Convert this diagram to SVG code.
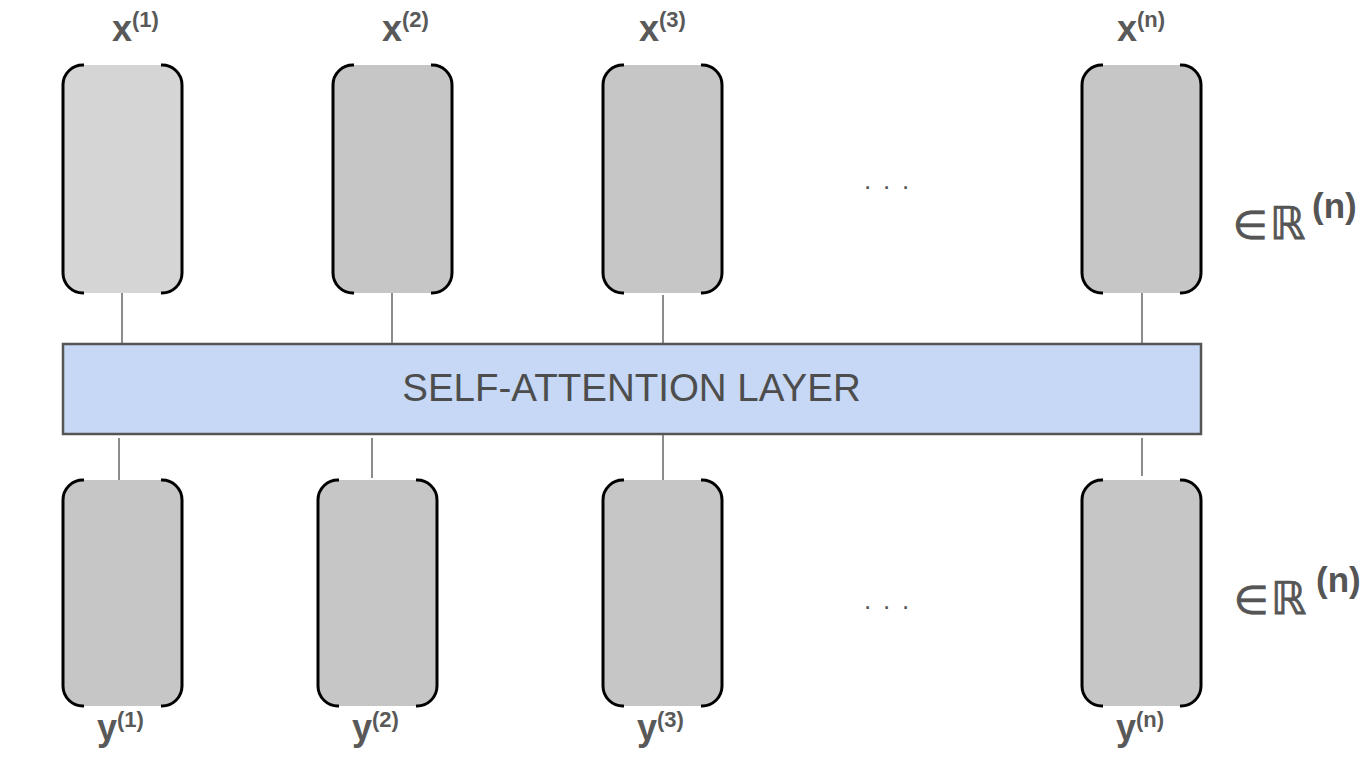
<svg xmlns="http://www.w3.org/2000/svg" width="1372" height="764" viewBox="0 0 1372 764">
<style>
.fill{fill:#c6c6c6;stroke:none}
.fill1{fill:#d5d5d5;stroke:none}
.br{fill:none;stroke:#000;stroke-width:3;stroke-linecap:butt}
.lbl{font-family:"Liberation Sans",Arial,sans-serif;font-weight:bold;font-size:36px;fill:#595959}
.sup{font-size:22px}
.con{stroke:#666;stroke-width:1.5}
.dots{font-family:"Liberation Sans",Arial,sans-serif;font-size:26px;fill:#555}
.math{font-family:"DejaVu Sans",sans-serif;fill:#555;stroke:#555;stroke-width:0.8}
.nsup{font-family:"Liberation Sans",Arial,sans-serif;font-weight:bold;font-size:35px;fill:#555}
</style>
<defs>
<g id="vecTop">
<rect class="fill" x="0" y="0" width="119" height="228" rx="20"/>
<path class="br" d="M21 0A20 20 0 0 0 0 20V208A20 20 0 0 0 21 228"/>
<path class="br" d="M98 0A20 20 0 0 1 119 20V208A20 20 0 0 1 98 228"/>
</g>
<g id="vecBot">
<rect class="fill" x="0" y="0" width="119" height="226" rx="20"/>
<path class="br" d="M21 0A20 20 0 0 0 0 20V206A20 20 0 0 0 21 226"/>
<path class="br" d="M98 0A20 20 0 0 1 119 20V206A20 20 0 0 1 98 226"/>
</g>
</defs>
<rect width="1372" height="764" fill="#fff"/>

<g id="connectors">
<line class="con" x1="122" y1="293" x2="122" y2="344"/>
<line class="con" x1="392" y1="293" x2="392" y2="344"/>
<line class="con" x1="663" y1="295" x2="663" y2="350"/>
<line class="con" x1="1142" y1="293" x2="1142" y2="344"/>
<line class="con" x1="119" y1="438" x2="119" y2="480"/>
<line class="con" x1="372" y1="438" x2="372" y2="478"/>
<line class="con" x1="663" y1="428" x2="663" y2="482"/>
<line class="con" x1="1142" y1="438" x2="1142" y2="476"/>
</g>

<g id="sa-layer">
<rect x="63" y="344" width="1138" height="90" fill="#c6d8f5" stroke="#555" stroke-width="2.5"/>
<text x="631.5" y="401" text-anchor="middle" font-family="'Liberation Sans',Arial,sans-serif" font-size="38.5" fill="#4d4d4d">SELF-ATTENTION LAYER</text>
</g>

<g id="x1">
<rect class="fill1" x="63" y="65" width="119" height="228" rx="20"/>
<path class="br" d="M84 65A20 20 0 0 0 63 85V273A20 20 0 0 0 84 293"/>
<path class="br" d="M161 65A20 20 0 0 1 182 85V273A20 20 0 0 1 161 293"/>
<text class="lbl" x="112" y="41">x<tspan class="sup" y="27">(1)</tspan></text>
</g>
<g id="x2">
<use href="#vecTop" x="333" y="65"/>
<text class="lbl" x="382" y="41">x<tspan class="sup" y="27">(2)</tspan></text>
</g>
<g id="x3">
<use href="#vecTop" x="603" y="65"/>
<text class="lbl" x="639" y="41">x<tspan class="sup" y="27">(3)</tspan></text>
</g>
<g id="xn">
<use href="#vecTop" x="1082" y="65"/>
<text class="lbl" x="1117" y="41">x<tspan class="sup" y="27">(n)</tspan></text>
</g>

<g id="y1">
<use href="#vecBot" x="63" y="480"/>
<text class="lbl" x="97" y="740">y<tspan class="sup" y="727">(1)</tspan></text>
</g>
<g id="y2">
<use href="#vecBot" x="318" y="480"/>
<text class="lbl" x="352" y="740">y<tspan class="sup" y="727">(2)</tspan></text>
</g>
<g id="y3">
<use href="#vecBot" x="603" y="480"/>
<text class="lbl" x="637" y="740">y<tspan class="sup" y="727">(3)</tspan></text>
</g>
<g id="yn">
<use href="#vecBot" x="1082" y="480"/>
<text class="lbl" x="1116" y="740">y<tspan class="sup" y="727">(n)</tspan></text>
</g>

<g id="ellipsis-top">
<text class="dots" x="864 883 902" y="189">...</text>
</g>
<g id="ellipsis-bottom">
<text class="dots" x="864 883 902" y="609">...</text>
</g>

<g id="space-top">
<text class="math" x="1233" y="239" font-size="40">∈</text>
<text class="math" x="1270" y="239" font-size="45">ℝ</text>
<text class="nsup" x="1312" y="218">(n)</text>
</g>
<g id="space-bottom">
<text class="math" x="1234" y="614" font-size="40">∈</text>
<text class="math" x="1271" y="614" font-size="45">ℝ</text>
<text class="nsup" x="1316" y="592">(n)</text>
</g>
</svg>
